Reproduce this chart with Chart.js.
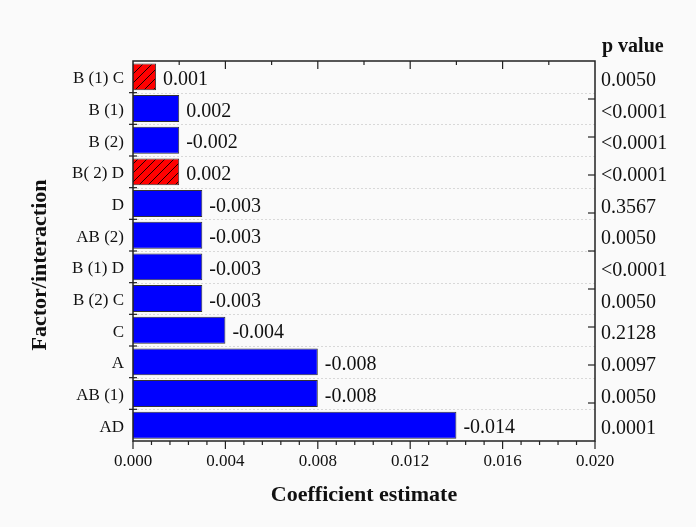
<!DOCTYPE html>
<html>
<head>
<meta charset="utf-8">
<script src="https://cdn.jsdelivr.net/npm/chart.js@4.4.1/dist/chart.umd.min.js"></script>
<style>
  html, body { margin: 0; padding: 0; background: #fafafa; }
  #wrap { width: 696px; height: 527px; }
</style>
</head>
<body>
<div id="wrap"><canvas id="c" width="696" height="527"></canvas></div>
<script>
// ---- data ----
const categories = ['B (1) C','B (1)','B (2)','B( 2) D','D','AB (2)','B (1) D','B (2) C','C','A','AB (1)','AD'];
const magnitudes = [0.001,0.002,0.002,0.002,0.003,0.003,0.003,0.003,0.004,0.008,0.008,0.014];
const valueLabels = ['0.001','0.002','-0.002','0.002','-0.003','-0.003','-0.003','-0.003','-0.004','-0.008','-0.008','-0.014'];
const pValues = ['0.0050','<0.0001','<0.0001','<0.0001','0.3567','0.0050','<0.0001','0.0050','0.2128','0.0097','0.0050','0.0001'];
const hatched = [true,false,false,true,false,false,false,false,false,false,false,false];
const xTickValues = [0, 0.004, 0.008, 0.012, 0.016, 0.020];

const SERIF = '"Liberation Serif", "Times New Roman", serif';

function makeHatch() {
  const s = 9;
  const c = document.createElement('canvas');
  c.width = s; c.height = s;
  const g = c.getContext('2d');
  g.fillStyle = '#ff0000';
  g.fillRect(0, 0, s, s);
  g.strokeStyle = '#000';
  g.lineWidth = 0.9;
  g.beginPath();
  g.moveTo(0, s); g.lineTo(s, 0);
  g.moveTo(-1, 1); g.lineTo(1, -1);
  g.moveTo(s - 1, s + 1); g.lineTo(s + 1, s - 1);
  g.stroke();
  return g.createPattern(c, 'repeat');
}
const ctx = document.getElementById('c').getContext('2d');
const hatchPattern = makeHatch();

const decor = {
  id: 'decor',
  beforeDatasetsDraw(chart) {
    const { ctx, chartArea: a, scales: { y } } = chart;
    ctx.save();
    ctx.strokeStyle = '#d8d8d8';
    ctx.lineWidth = 1;
    ctx.setLineDash([2, 2]);
    for (let i = 0; i < categories.length - 1; i++) {
      const yy = Math.round((y.getPixelForValue(i) + y.getPixelForValue(i + 1)) / 2) + 0.5;
      ctx.beginPath(); ctx.moveTo(a.left, yy); ctx.lineTo(a.right, yy); ctx.stroke();
    }
    ctx.restore();
  },
  afterDatasetsDraw(chart) {
    const { ctx, chartArea: a, scales: { x, y } } = chart;
    ctx.save();
    // frame
    ctx.strokeStyle = '#222';
    ctx.lineWidth = 1.5;
    ctx.strokeRect(a.left, a.top, a.right - a.left, a.bottom - a.top);
    ctx.lineWidth = 1.2;
    // left ticks at category boundaries (crossing)
    for (let i = 0; i < categories.length - 1; i++) {
      const yy = (y.getPixelForValue(i) + y.getPixelForValue(i + 1)) / 2;
      ctx.beginPath(); ctx.moveTo(a.left - 4, yy); ctx.lineTo(a.left + 4, yy); ctx.stroke();
    }
    // right ticks (10 divisions, inward)
    for (let k = 1; k < 10; k++) {
      const yy = a.top + (a.bottom - a.top) * k / 10;
      ctx.beginPath(); ctx.moveTo(a.right, yy); ctx.lineTo(a.right - 7, yy); ctx.stroke();
    }
    // bottom ticks (outward), minor every 0.0008
    for (let k = 0; k <= 25; k++) {
      const xx = x.getPixelForValue(k * 0.0008);
      const len = (k % 5 === 0) ? 8 : 4;
      ctx.beginPath(); ctx.moveTo(xx, a.bottom); ctx.lineTo(xx, a.bottom + len); ctx.stroke();
    }
    // top ticks (inward), every 0.002
    for (let k = 1; k < 10; k++) {
      const xx = x.getPixelForValue(k * 0.002);
      const len = (k % 2 === 0) ? 8 : 4;
      ctx.beginPath(); ctx.moveTo(xx, a.top); ctx.lineTo(xx, a.top + len); ctx.stroke();
    }
    // value labels
    const meta = chart.getDatasetMeta(0);
    ctx.fillStyle = '#111';
    ctx.font = '20px ' + SERIF;
    ctx.textAlign = 'left';
    ctx.textBaseline = 'middle';
    meta.data.forEach((bar, i) => {
      ctx.fillText(valueLabels[i], bar.x + 7, bar.y + 3);
    });
    // p values
    ctx.font = '20px ' + SERIF;
    pValues.forEach((p, i) => {
      ctx.fillText(p, a.right + 6, y.getPixelForValue(i) + 4);
    });
    ctx.font = 'bold 20px ' + SERIF;
    ctx.textBaseline = 'alphabetic';
    ctx.fillText('p value', a.right + 7, a.top - 9);
    // axis titles
    ctx.font = 'bold 22px ' + SERIF;
    ctx.textAlign = 'center';
    ctx.textBaseline = 'middle';
    ctx.fillText('Coefficient estimate', (a.left + a.right) / 2, 495);
    ctx.save();
    ctx.translate(40, (a.top + a.bottom) / 2 + 14);
    ctx.rotate(-Math.PI / 2);
    ctx.fillText('Factor/interaction', 0, 0);
    ctx.restore();
    ctx.restore();
  }
};

new Chart(ctx, {
  type: 'bar',
  data: {
    labels: categories,
    datasets: [{
      data: magnitudes,
      backgroundColor: hatched.map(h => h ? hatchPattern : '#0000ff'),
      borderColor: '#333',
      borderWidth: 1,
      barPercentage: 0.85,
      categoryPercentage: 1.0
    }]
  },
  options: {
    indexAxis: 'y',
    responsive: false,
    animation: false,
    layout: { padding: { top: 61, right: 101, left: 0, bottom: 0 } },
    plugins: { legend: { display: false }, tooltip: { enabled: false }, title: { display: false } },
    scales: {
      x: {
        type: 'linear',
        min: 0, max: 0.020,
        afterFit: s => { s.height = 86; },
        afterBuildTicks: s => { s.ticks = xTickValues.map(v => ({ value: v })); },
        grid: { display: false, drawTicks: false },
        border: { display: false },
        ticks: {
          padding: 10,
          color: '#111',
          font: { family: SERIF, size: 17 },
          callback: v => Number(v).toFixed(3)
        }
      },
      y: {
        type: 'category',
        offset: true,
        afterFit: s => { s.width = 133; },
        grid: { display: false, drawTicks: false },
        border: { display: false },
        ticks: {
          padding: 9,
          labelOffset: 2,
          color: '#111',
          font: { family: SERIF, size: 17 }
        }
      }
    }
  },
  plugins: [decor]
});
</script>
</body>
</html>
